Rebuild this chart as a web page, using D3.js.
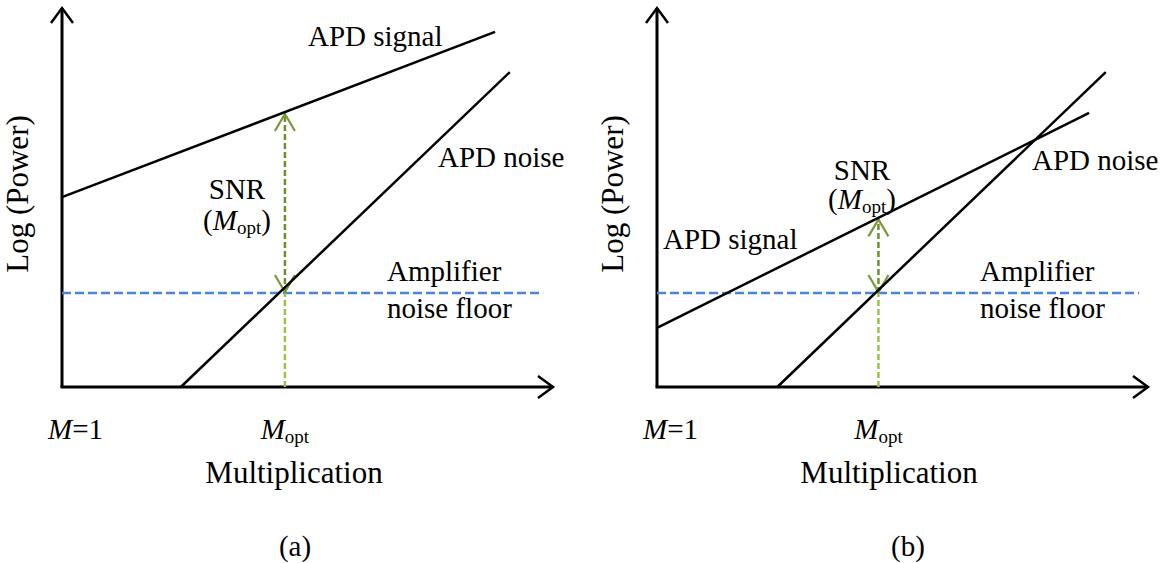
<!DOCTYPE html>
<html>
<head>
<meta charset="utf-8">
<script src="https://cdn.jsdelivr.net/npm/d3@7"></script>
<style>
  body { margin: 0; background: #fff; }
</style>
</head>
<body>
<div id="chart"></div>
<script>
// schematic values, both axes in arbitrary units 0..100
var panels = ["(a)", "(b)"];
var signalA = [[0, 50.1], [88.2, 93.7]];
var noiseA = [[24.2, 0], [91.2, 83.1]];
var signalB = [[0, 15.6], [88, 72.3]];
var noiseB = [[24.5, 0], [91.4, 83.1]];
var floorLevel = 24.8;
var floorEnd = [98, 98.2];
var moptX = [45.4, 45.1];
var snrTop = [72.3, 44.5]; // signal level at Mopt

var width = 1168, height = 563;
var serif = "Liberation Serif";

var svg = d3.select("#chart").append("svg")
    .attr("width", width)
    .attr("height", height);

var cfg = [
  { left: 62, signal: signalA, noise: noiseA,
    labels: { signal: [308, 46], noise: [438, 167],
              snr: [237, 199], mopt: [237, 230], amp: [387, 281] } },
  { left: 657, signal: signalB, noise: noiseB,
    labels: { signal: [663, 249], noise: [1032, 170],
              snr: [862, 180], mopt: [862, 209], amp: [980, 281] } }
];

var line = d3.line();

function label(g, x, y, size, txt) {
  return g.append("text").attr("x", x).attr("y", y)
      .attr("font-family", serif).attr("font-size", size).text(txt);
}

cfg.forEach(function(c, i) {
  var x = d3.scaleLinear().domain([0, 100]).range([c.left, c.left + 491]);
  var y = d3.scaleLinear().domain([0, 100]).range([387, 8]);
  var g = svg.append("g");

  // axes
  g.append("path")
      .attr("d", line([[x(0), y(0)], [x(0), y(100)]]))
      .attr("stroke", "#000").attr("stroke-width", 3).attr("fill", "none");
  g.append("path")
      .attr("d", line([[x(0) - 1.5, y(0)], [x(100), y(0)]]))
      .attr("stroke", "#000").attr("stroke-width", 3).attr("fill", "none");
  // arrow heads
  g.append("path")
      .attr("d", "M" + (x(0) - 11) + "," + (y(100) + 15) + "L" + x(0) + "," + y(100) + "L" + (x(0) + 11) + "," + (y(100) + 15))
      .attr("stroke", "#000").attr("stroke-width", 2.5).attr("fill", "none");
  g.append("path")
      .attr("d", "M" + (x(100) - 15) + "," + (y(0) - 11) + "L" + x(100) + "," + y(0) + "L" + (x(100) - 15) + "," + (y(0) + 11))
      .attr("stroke", "#000").attr("stroke-width", 2.5).attr("fill", "none");

  // noise floor
  g.append("path")
      .attr("d", line([[x(0), y(floorLevel)], [x(floorEnd[i]), y(floorLevel)]]))
      .attr("stroke", "#4a86d8").attr("stroke-width", 2.5).attr("stroke-dasharray", "9,4").attr("fill", "none");

  // Mopt verticals
  g.append("path")
      .attr("d", line([[x(moptX[i]), y(0)], [x(moptX[i]), y(floorLevel)]]))
      .attr("stroke", "#9bc34a").attr("stroke-width", 2.5).attr("stroke-dasharray", "6,3").attr("fill", "none");
  g.append("path")
      .attr("d", line([[x(moptX[i]), y(floorLevel)], [x(moptX[i]), y(snrTop[i])]]))
      .attr("stroke", "#6f8f2f").attr("stroke-width", 2.5).attr("stroke-dasharray", "6,3").attr("fill", "none");
  var xm = x(moptX[i]), yt = y(snrTop[i]) + 1, yb = y(floorLevel) - 1;
  g.append("path")
      .attr("d", "M" + (xm - 10) + "," + (yt + 17) + "L" + xm + "," + yt + "L" + (xm + 10) + "," + (yt + 17))
      .attr("stroke", "#77993a").attr("stroke-width", 2.2).attr("fill", "none");
  g.append("path")
      .attr("d", "M" + (xm - 10) + "," + (yb - 17) + "L" + xm + "," + yb + "L" + (xm + 10) + "," + (yb - 17))
      .attr("stroke", "#77993a").attr("stroke-width", 2.2).attr("fill", "none");

  // signal and noise
  [c.signal, c.noise].forEach(function(d) {
    g.append("path")
        .attr("d", line(d.map(function(p) { return [x(p[0]), y(p[1])]; })))
        .attr("stroke", "#000").attr("stroke-width", 2.5).attr("fill", "none");
  });

  var L = c.labels;
  label(g, L.signal[0], L.signal[1], 29, "APD signal");
  label(g, L.noise[0], L.noise[1], 29, "APD noise");
  label(g, L.snr[0], L.snr[1], 29, "SNR").attr("text-anchor", "middle");
  var mt = label(g, L.mopt[0], L.mopt[1], 29, null).attr("text-anchor", "middle");
  mt.append("tspan").text("(");
  mt.append("tspan").attr("font-style", "italic").text("M");
  mt.append("tspan").attr("font-size", 19).attr("dy", 4).text("opt");
  mt.append("tspan").attr("dy", -4).text(")");
  label(g, L.amp[0], L.amp[1], 29, "Amplifier");
  label(g, L.amp[0], L.amp[1] + 37, 29, "noise floor");

  // y title
  label(g, 0, 0, 31, "Log (Power)")
      .attr("transform", "translate(" + (x(0) - 34) + "," + 194 + ")rotate(-90)")
      .attr("text-anchor", "middle");

  // x tick labels
  var m1 = label(g, x(0) - 14, 439, 29, null);
  m1.append("tspan").attr("font-style", "italic").text("M");
  m1.append("tspan").text("=1");
  var mo = label(g, x(moptX[i]), 439, 29, null).attr("text-anchor", "middle");
  mo.append("tspan").attr("font-style", "italic").text("M");
  mo.append("tspan").attr("font-size", 19).attr("dy", 4).text("opt");

  label(g, x(0) + 232, 483, 31, "Multiplication").attr("text-anchor", "middle");
  label(g, x(0) + 233 + i * 18, 556, 29, panels[i]).attr("text-anchor", "middle");
});
</script>
</body>
</html>
